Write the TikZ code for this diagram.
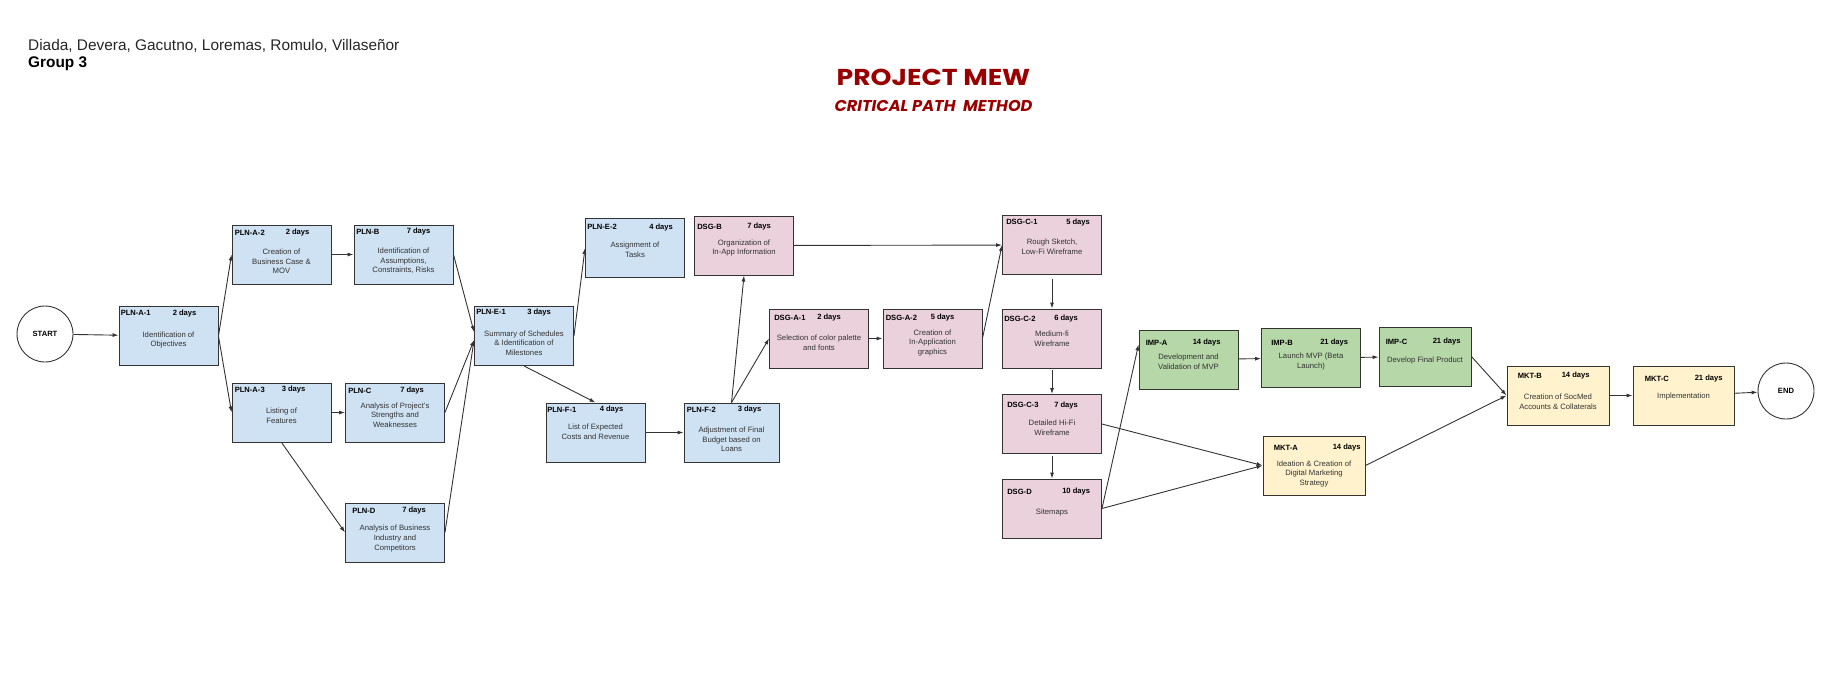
\documentclass[tikz,border=0pt]{standalone}
\usepackage{fontspec}
\setmainfont{Liberation Sans}
\newfontfamily\titlefont[FakeStretch=1.16]{Poppins}
\newfontfamily\subtitlefont[FakeStretch=1.03]{Poppins}
\usepackage{xcolor}
\usepackage{tikz}
\usetikzlibrary{positioning}
\usetikzlibrary{arrows.meta}
\definecolor{plan-blue}{HTML}{CFE2F3}
\definecolor{design-pink}{HTML}{EAD1DC}
\definecolor{impl-green}{HTML}{B6D7A8}
\definecolor{mkt-yellow}{HTML}{FFF2CC}
\definecolor{title-red}{HTML}{990000}
\definecolor{desc-gray}{HTML}{333333}
\tikzset{>={Latex[length=6pt, width=4pt]}}
\tikzset{cpm-line/.style={line width=0.9pt, draw=black!80}}
\tikzset{cpm-task/.style={draw=black!80, line width=0.9pt, minimum width=99, minimum height=59, inner sep=0}}
\tikzset{cpm-plan/.style={cpm-task, fill=plan-blue}}
\tikzset{cpm-design/.style={cpm-task, fill=design-pink}}
\tikzset{cpm-impl/.style={cpm-task, fill=impl-green}}
\tikzset{cpm-mkt/.style={cpm-task, fill=mkt-yellow}}
\tikzset{cpm-desc/.style={inner sep=0, align=center, font=\fontsize{7.7}{9.6}\selectfont, text=desc-gray}}
\tikzset{cpm-id/.style={anchor=west, inner sep=0, font=\bfseries\fontsize{7.6}{9}\selectfont}}
\tikzset{cpm-days/.style={cpm-id}}
\tikzset{cpm-event/.style={draw=black!80, line width=0.9pt, circle, minimum size=56, inner sep=0, fill=white, font=\bfseries\fontsize{7.6}{9}\selectfont}}

\begin{document}
\begin{tikzpicture}[x=1pt, y=-1pt]
    \useasboundingbox (0,0) rectangle (1848,694);

    % header
    \node[anchor=base west, inner sep=0, font=\fontsize{15.4}{18}\selectfont, text=black!85] (authors) at (28,50) {Diada, Devera, Gacutno, Loremas, Romulo, Villaseñor};
    \node[anchor=base west, inner sep=0, font=\bfseries\fontsize{15.4}{18}\selectfont] (group) at (28,67.7) {Group 3};
    \node[anchor=base, inner sep=0, font=\titlefont\bfseries\fontsize{23}{26}\selectfont, text=title-red] (title) at (933.5,85) {PROJECT MEW};
    \node[anchor=base, inner sep=0, font=\subtitlefont\bfseries\itshape\fontsize{15.7}{18}\selectfont, text=title-red] (subtitle) at (933.5,111) {CRITICAL PATH~~METHOD};

    % events
    \node[cpm-event] (evStart) at (45,334) {START};
    \node[cpm-event] (evEnd) at (1786,391) {END};

    % planning
    \node[cpm-plan] (plnA1) at (168.5,336) {};
    \node[cpm-id] (plnA1-id) at ([shift={(2,7)}]plnA1.north west) {PLN-A-1};
    \node[cpm-days] (plnA1-d) at ([shift={(54,7)}]plnA1.north west) {2 days};
    \node[cpm-desc] (plnA1-t) at ([shift={(0,4)}]plnA1.center) {Identification of\\Objectives};

    \node[cpm-plan] (plnA2) at (281.5,254.5) {};
    \node[cpm-id] (plnA2-id) at ([shift={(3,8)}]plnA2.north west) {PLN-A-2};
    \node[cpm-days] (plnA2-d) at ([shift={(54,8)}]plnA2.north west) {2 days};
    \node[cpm-desc] (plnA2-t) at ([shift={(0,7)}]plnA2.center) {Creation of\\Business Case \&\\MOV};

    \node[cpm-plan] (plnB) at (403.5,254.5) {};
    \node[cpm-id] (plnB-id) at ([shift={(2.5,7)}]plnB.north west) {PLN-B};
    \node[cpm-days] (plnB-d) at ([shift={(53,7)}]plnB.north west) {7 days};
    \node[cpm-desc] (plnB-t) at ([shift={(0,6.5)}]plnB.center) {Identification of\\Assumptions,\\Constraints, Risks};

    \node[cpm-plan] (plnA3) at (281.5,412.5) {};
    \node[cpm-id] (plnA3-id) at ([shift={(3,7)}]plnA3.north west) {PLN-A-3};
    \node[cpm-days] (plnA3-d) at ([shift={(50,7)}]plnA3.north west) {3 days};
    \node[cpm-desc] (plnA3-t) at ([shift={(0,3)}]plnA3.center) {Listing of\\Features};

    \node[cpm-plan] (plnC) at (395,412.5) {};
    \node[cpm-id] (plnC-id) at ([shift={(3,8)}]plnC.north west) {PLN-C};
    \node[cpm-days] (plnC-d) at ([shift={(55,8)}]plnC.north west) {7 days};
    \node[cpm-desc] (plnC-t) at ([shift={(0,2.5)}]plnC.center) {Analysis of Project's\\Strengths and\\Weaknesses};

    \node[cpm-plan] (plnD) at (395,532.5) {};
    \node[cpm-id] (plnD-id) at ([shift={(7,8)}]plnD.north west) {PLN-D};
    \node[cpm-days] (plnD-d) at ([shift={(57,8)}]plnD.north west) {7 days};
    \node[cpm-desc] (plnD-t) at ([shift={(0,6)}]plnD.center) {Analysis of Business\\Industry and\\Competitors};

    \node[cpm-plan] (plnE1) at (524,336) {};
    \node[cpm-id] (plnE1-id) at ([shift={(2,6)}]plnE1.north west) {PLN-E-1};
    \node[cpm-days] (plnE1-d) at ([shift={(53,6)}]plnE1.north west) {3 days};
    \node[cpm-desc] (plnE1-t) at ([shift={(0,7)}]plnE1.center) {Summary of Schedules\\\& Identification of\\Milestones};

    \node[cpm-plan] (plnE2) at (635,248) {};
    \node[cpm-id] (plnE2-id) at ([shift={(2,9)}]plnE2.north west) {PLN-E-2};
    \node[cpm-days] (plnE2-d) at ([shift={(64,9)}]plnE2.north west) {4 days};
    \node[cpm-desc] (plnE2-t) at ([shift={(0,2)}]plnE2.center) {Assignment of\\Tasks};

    \node[cpm-plan] (plnF1) at (595.5,432.5) {};
    \node[cpm-id] (plnF1-id) at ([shift={(1.5,7)}]plnF1.north west) {PLN-F-1};
    \node[cpm-days] (plnF1-d) at ([shift={(54,7)}]plnF1.north west) {4 days};
    \node[cpm-desc] (plnF1-t) at ([shift={(0,-1)}]plnF1.center) {List of Expected\\Costs and Revenue};

    \node[cpm-plan, minimum width=95] (plnF2) at (731.5,432.5) {};
    \node[cpm-id] (plnF2-id) at ([shift={(3,7)}]plnF2.north west) {PLN-F-2};
    \node[cpm-days] (plnF2-d) at ([shift={(54,7)}]plnF2.north west) {3 days};
    \node[cpm-desc] (plnF2-t) at ([shift={(0,7)}]plnF2.center) {Adjustment of Final\\Budget based on\\Loans};

    % design
    \node[cpm-design] (dsgB) at (744,245.5) {};
    \node[cpm-id] (dsgB-id) at ([shift={(3,11)}]dsgB.north west) {DSG-B};
    \node[cpm-days] (dsgB-d) at ([shift={(53,11)}]dsgB.north west) {7 days};
    \node[cpm-desc] (dsgB-t) at ([shift={(0,2.5)}]dsgB.center) {Organization of\\In-App Information};

    \node[cpm-design] (dsgA1) at (819,338.5) {};
    \node[cpm-id] (dsgA1-id) at ([shift={(5,9)}]dsgA1.north west) {DSG-A-1};
    \node[cpm-days] (dsgA1-d) at ([shift={(48,9)}]dsgA1.north west) {2 days};
    \node[cpm-desc] (dsgA1-t) at ([shift={(0,4.5)}]dsgA1.center) {Selection of color palette\\and fonts};

    \node[cpm-design] (dsgA2) at (932.5,338.5) {};
    \node[cpm-id] (dsgA2-id) at ([shift={(3,9)}]dsgA2.north west) {DSG-A-2};
    \node[cpm-days] (dsgA2-d) at ([shift={(48,9)}]dsgA2.north west) {5 days};
    \node[cpm-desc] (dsgA2-t) at ([shift={(0,4.5)}]dsgA2.center) {Creation of\\In-Application\\graphics};

    \node[cpm-design] (dsgC1) at (1052,245) {};
    \node[cpm-id] (dsgC1-id) at ([shift={(4,7)}]dsgC1.north west) {DSG-C-1};
    \node[cpm-days] (dsgC1-d) at ([shift={(64,7)}]dsgC1.north west) {5 days};
    \node[cpm-desc] (dsgC1-t) at ([shift={(0,2)}]dsgC1.center) {Rough Sketch,\\Low-Fi Wireframe};

    \node[cpm-design] (dsgC2) at (1052,338.5) {};
    \node[cpm-id] (dsgC2-id) at ([shift={(2,10)}]dsgC2.north west) {DSG-C-2};
    \node[cpm-days] (dsgC2-d) at ([shift={(52,10)}]dsgC2.north west) {6 days};
    \node[cpm-desc] (dsgC2-t) at ([shift={(0,0)}]dsgC2.center) {Medium-fi\\Wireframe};

    \node[cpm-design] (dsgC3) at (1052,424) {};
    \node[cpm-id] (dsgC3-id) at ([shift={(5,11)}]dsgC3.north west) {DSG-C-3};
    \node[cpm-days] (dsgC3-d) at ([shift={(52,11)}]dsgC3.north west) {7 days};
    \node[cpm-desc] (dsgC3-t) at ([shift={(0,4)}]dsgC3.center) {Detailed Hi-Fi\\Wireframe};

    \node[cpm-design] (dsgD) at (1052,508.5) {};
    \node[cpm-id] (dsgD-id) at ([shift={(5,13)}]dsgD.north west) {DSG-D};
    \node[cpm-days] (dsgD-d) at ([shift={(60,13)}]dsgD.north west) {10 days};
    \node[cpm-desc] (dsgD-t) at ([shift={(0,4.5)}]dsgD.center) {Sitemaps};

    % implementation
    \node[cpm-impl] (impA) at (1188.5,359.5) {};
    \node[cpm-id] (impA-id) at ([shift={(7,13)}]impA.north west) {IMP-A};
    \node[cpm-days] (impA-d) at ([shift={(54,13)}]impA.north west) {14 days};
    \node[cpm-desc] (impA-t) at ([shift={(0,2)}]impA.center) {Development and\\Validation of MVP};

    \node[cpm-impl] (impB) at (1311,358) {};
    \node[cpm-id] (impB-id) at ([shift={(10,14.5)}]impB.north west) {IMP-B};
    \node[cpm-days] (impB-d) at ([shift={(59,14.5)}]impB.north west) {21 days};
    \node[cpm-desc] (impB-t) at ([shift={(0,3.5)}]impB.center) {Launch MVP (Beta\\Launch)};

    \node[cpm-impl, minimum width=92] (impC) at (1425,356.5) {};
    \node[cpm-id] (impC-id) at ([shift={(7,15)}]impC.north west) {IMP-C};
    \node[cpm-days] (impC-d) at ([shift={(54,15)}]impC.north west) {21 days};
    \node[cpm-desc] (impC-t) at ([shift={(0,4)}]impC.center) {Develop Final Product};

    % marketing
    \node[cpm-mkt, minimum width=102] (mktA) at (1314,465.5) {};
    \node[cpm-id] (mktA-id) at ([shift={(11,12)}]mktA.north west) {MKT-A};
    \node[cpm-days] (mktA-d) at ([shift={(70,12)}]mktA.north west) {14 days};
    \node[cpm-desc] (mktA-t) at ([shift={(0,8.5)}]mktA.center) {Ideation \& Creation of\\Digital Marketing\\Strategy};

    \node[cpm-mkt, minimum width=102] (mktB) at (1558,395.5) {};
    \node[cpm-id] (mktB-id) at ([shift={(11,10)}]mktB.north west) {MKT-B};
    \node[cpm-days] (mktB-d) at ([shift={(55,10)}]mktB.north west) {14 days};
    \node[cpm-desc] (mktB-t) at ([shift={(0,6.5)}]mktB.center) {Creation of SocMed\\Accounts \& Collaterals};

    \node[cpm-mkt, minimum width=101] (mktC) at (1683.5,395.5) {};
    \node[cpm-id] (mktC-id) at ([shift={(12,13)}]mktC.north west) {MKT-C};
    \node[cpm-days] (mktC-d) at ([shift={(62,13)}]mktC.north west) {21 days};
    \node[cpm-desc] (mktC-t) at ([shift={(0,1.5)}]mktC.center) {Implementation};

    % dependencies
    \draw[->, cpm-line] (evStart) -- (plnA1);
    \draw[->, cpm-line] (plnA1.east) -- (plnA2.west);
    \draw[->, cpm-line] (plnA1.east) -- (plnA3.west);
    \draw[->, cpm-line] (plnA2) -- (plnB);
    \draw[->, cpm-line] (plnA3) -- (plnC);
    \draw[->, cpm-line] (plnA3.south) -- (plnD.west);
    \draw[->, cpm-line] (plnB.east) -- ([shift={(0,-4)}]plnE1.west);
    \draw[->, cpm-line] (plnC.east) -- ([shift={(0,4)}]plnE1.west);
    \draw[->, cpm-line] (plnD.east) -- ([shift={(0,4)}]plnE1.west);
    \draw[->, cpm-line] (plnE1.east) -- (plnE2.west);
    \draw[->, cpm-line] (plnE1.south) -- (plnF1.north);
    \draw[->, cpm-line] (plnF1) -- (plnF2);
    \draw[->, cpm-line] (plnF2.north) -- (dsgB.south);
    \draw[->, cpm-line] (plnF2.north) -- (dsgA1.west);
    \draw[->, cpm-line] (dsgA1) -- (dsgA2);
    \draw[->, cpm-line] (dsgB) -- (dsgC1);
    \draw[->, cpm-line] (dsgA2.east) -- (dsgC1.west);
    \draw[->, cpm-line, shorten <=4pt] (dsgC1) -- (dsgC2);
    \draw[->, cpm-line, shorten <=2pt] (dsgC2) -- (dsgC3);
    \draw[->, cpm-line, shorten <=2pt] (dsgC3) -- (dsgD);
    \draw[->, cpm-line] (dsgC3.east) -- (mktA.west);
    \draw[->, cpm-line] (dsgD.east) -- ([shift={(0,-15)}]impA.west);
    \draw[->, cpm-line] (dsgD.east) -- (mktA.west);
    \draw[->, cpm-line] (impA) -- (impB);
    \draw[->, cpm-line] (impB) -- (impC);
    \draw[->, cpm-line] (impC.east) -- (mktB.west);
    \draw[->, cpm-line] (mktA.east) -- (mktB.west);
    \draw[->, cpm-line] (mktB) -- (mktC);
    \draw[->, cpm-line] (mktC) -- (evEnd);

\end{tikzpicture}
\end{document}
